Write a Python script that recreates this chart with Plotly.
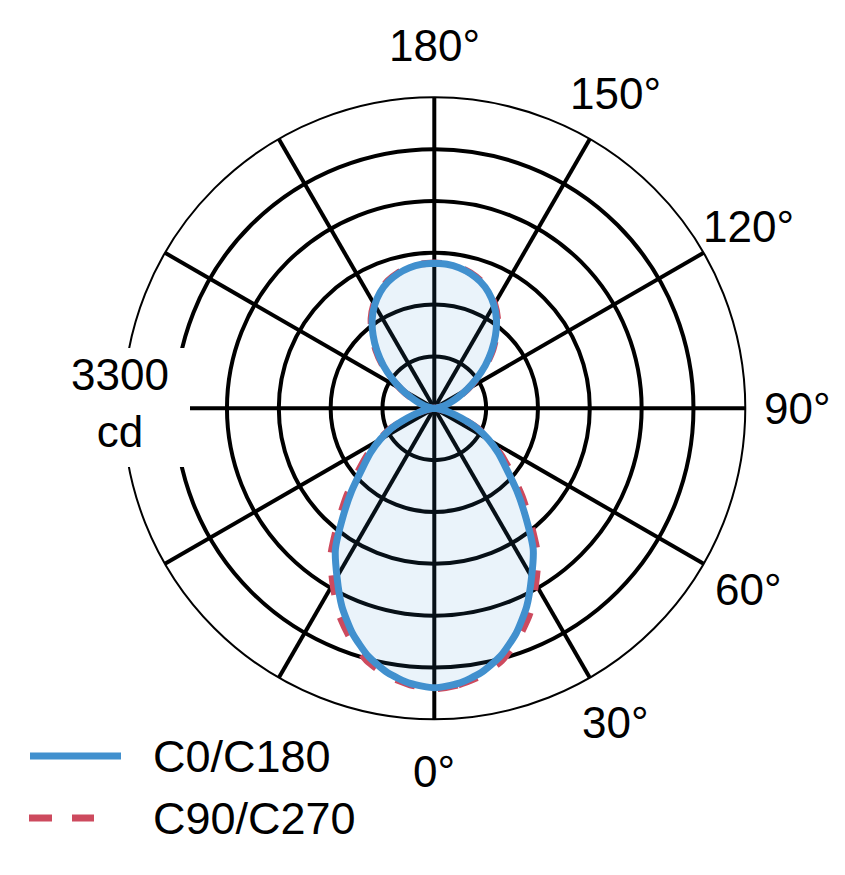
import math
import plotly.graph_objects as go

# ---------------- data ----------------
angles = list(range(0, 181, 5))  # gamma angle, 0 = straight down

c0_c180 = [2965, 2930, 2850, 2720, 2540, 2320, 2065, 1830, 1510, 1240,
           1000, 830, 665, 500, 305, 170, 80, 25, 0,
           20, 55, 110, 180, 275, 400, 545, 705, 860, 1010,
           1150, 1265, 1360, 1430, 1480, 1515, 1535, 1540]

c90_c270 = [2975, 2945, 2880, 2770, 2600, 2400, 2150, 1915, 1590, 1315,
            1065, 870, 685, 510, 310, 172, 80, 25, 0,
            20, 55, 112, 185, 282, 410, 558, 720, 878, 1028,
            1168, 1280, 1372, 1440, 1488, 1520, 1538, 1542]

ring_values = [550, 1100, 1650, 2200, 2750]
max_cd = 3300
tick_angles = [0, 30, 60, 90, 120, 150, 180]
tick_labels = ["0°", "30°", "60°", "90°", "120°", "150°", "180°"]
series_names = ["C0/C180", "C90/C270"]
scale_label = "3300<br>cd"

# ---------------- layout constants ----------------
OFF = 8                      # default page body margin
W, H = 845 - OFF, 875 - OFF
CX, CY, RAD = 434.3 - OFF, 408.3 - OFF, 311.0
FONT = "Liberation Sans, Arial, Helvetica, sans-serif"
FS = 44
BLUE = "#4190CE"
RED = "#CD4A5E"


def px(x):
    return x / W


def py(y):
    return 1 - y / H


def sx(x):  # reference-page pixel -> paper x
    return px(x - OFF)


def sy(y):  # reference-page pixel -> paper y
    return py(y - OFF)


def mirror(a, v):
    # C0 half on one side, C180 half mirrored on the other side
    th = list(a) + [360 - t for t in reversed(a)]
    rr = list(v) + list(reversed(v))
    return th, rr


fig = go.Figure()

th_r, r_r = mirror(angles, c90_c270)
fig.add_trace(go.Scatterpolar(
    r=r_r, theta=th_r, mode="lines", name=series_names[1],
    line=dict(color=RED, width=7, dash="20px,23px", shape="spline", smoothing=0.6),
    showlegend=False, hoverinfo="skip"))

th_b, r_b = mirror(angles, c0_c180)
fig.add_trace(go.Scatterpolar(
    r=r_b, theta=th_b, mode="lines", name=series_names[0],
    line=dict(color=BLUE, width=7, shape="spline", smoothing=0.6),
    fill="toself", fillcolor="rgba(65,143,207,0.11)",
    showlegend=False, hoverinfo="skip"))

fig.update_layout(
    width=W, height=H,
    margin=dict(l=0, r=0, t=0, b=0),
    paper_bgcolor="white",
    showlegend=False,
    polar=dict(
        domain=dict(x=[px(CX - RAD), px(CX + RAD)],
                    y=[py(CY + RAD), py(CY - RAD)]),
        bgcolor="white",
        radialaxis=dict(range=[0, max_cd], tickvals=ring_values,
                        showticklabels=False, ticks="", showline=False,
                        gridcolor="black", gridwidth=4),
        angularaxis=dict(rotation=270, direction="counterclockwise",
                         tickmode="linear", tick0=0, dtick=30,
                         showticklabels=False, ticks="",
                         gridcolor="black", gridwidth=4,
                         showline=True, linecolor="black", linewidth=2),
    ),
)

annotations = []
R_LAB = 363
for a, lab in zip(tick_angles, tick_labels):
    x = CX + R_LAB * math.sin(math.radians(a))
    y = CY + R_LAB * math.cos(math.radians(a))
    annotations.append(dict(x=px(x), y=py(y), xref="paper", yref="paper",
                            text=lab, showarrow=False, xanchor="center",
                            yanchor="middle", font=dict(family=FONT, size=FS, color="black")))

# scale label with white knockout box
shapes = [dict(type="rect", xref="paper", yref="paper",
               x0=sx(50), x1=sx(190), y0=sy(467), y1=sy(348),
               fillcolor="white", line=dict(width=0), layer="above")]
annotations.append(dict(x=sx(120), y=sy(403), xref="paper", yref="paper",
                        text=scale_label, showarrow=False, xanchor="center",
                        yanchor="middle", align="center",
                        font=dict(family=FONT, size=44, color="black")))

# legend (drawn manually)
shapes.append(dict(type="line", xref="paper", yref="paper",
                   x0=sx(30), x1=sx(121), y0=sy(756), y1=sy(756),
                   line=dict(color=BLUE, width=7), layer="above"))
shapes.append(dict(type="line", xref="paper", yref="paper",
                   x0=sx(29), x1=sx(94), y0=sy(818), y1=sy(818),
                   line=dict(color=RED, width=7, dash="23px,20px"), layer="above"))
annotations.append(dict(x=sx(151), y=sy(756), xref="paper", yref="paper",
                        text=series_names[0], showarrow=False, xanchor="left",
                        yanchor="middle", font=dict(family=FONT, size=45, color="black")))
annotations.append(dict(x=sx(151), y=sy(818), xref="paper", yref="paper",
                        text=series_names[1], showarrow=False, xanchor="left",
                        yanchor="middle", font=dict(family=FONT, size=45, color="black")))

fig.update_layout(annotations=annotations, shapes=shapes)
fig.write_html("out.html")
